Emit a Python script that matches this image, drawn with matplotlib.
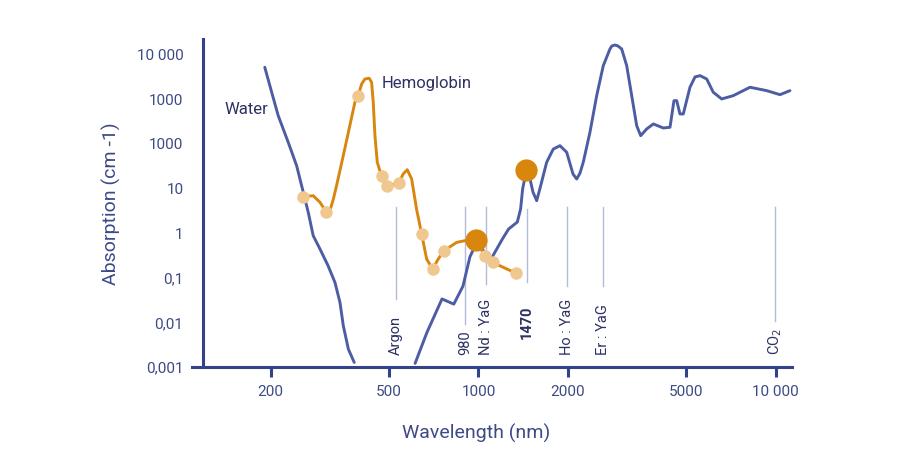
import matplotlib.pyplot as plt
import numpy as np

plt.rcParams['font.family'] = ['Roboto', 'DejaVu Sans']

# water absorption, UV part and IR part (nm, cm-1)
water_uv_wl = [191, 201.5, 212, 229, 244.5, 257.4, 267.5, 278, 293, 312, 329, 342, 351, 365, 382]
water_uv_abs = [4980, 1371, 409, 104, 31, 7.85, 2.79, 0.836, 0.42, 0.177, 0.075, 0.0268,
                0.008, 0.0024, 0.00121]

water_ir_wl = [612, 671, 754, 826, 887, 936, 981, 1030, 1093, 1203, 1263, 1351, 1386, 1408,
               1450, 1490, 1525, 1570, 1610, 1696, 1785, 1880, 1981, 2080, 2140, 2195, 2252,
               2372, 2499, 2630, 2770, 2812, 2880, 2944, 3033, 3153, 3278, 3407, 3514, 3681,
               3875, 4187, 4410, 4548, 4645, 4764, 4888, 5148, 5353, 5564, 5860, 6166, 6581,
               7200, 8195, 9326, 10340, 11170]
water_ir_abs = [0.00115, 0.0057, 0.032, 0.0245, 0.062, 0.28, 0.55, 0.42, 0.226, 0.70, 1.18,
                1.69, 3.3, 9.3, 25, 16, 8.0, 5.1, 9.5, 36.9, 73, 87, 62, 20.2, 15.6, 21, 37,
                174, 1150, 5410, 12800, 14960, 15700, 14960, 12800, 5410, 1150, 244, 146,
                206, 267, 217, 225, 888, 888, 447, 447, 1775, 3020, 3230, 2720, 1371, 970,
                1150, 1775, 1490, 1210, 1490]

# hemoglobin absorption
hb_wl = [257, 278, 293, 307, 317, 325, 333, 342, 355.5, 369.5, 384, 394, 404.6,
         415, 429, 437, 442.6, 448.5, 456.6, 472.5, 493, 540, 558, 576, 596, 619, 644,
         669.5, 701, 732, 765, 845, 904, 980, 1050, 1118, 1340]
hb_abs = [6.25, 6.58, 4.68, 2.88, 3.2, 5.54, 11, 24.2, 77.6, 252, 818, 1150, 2100,
          2720, 2825, 2296, 818, 146, 36.9, 17.9, 11, 12.7, 20.2, 25.2, 15.6, 3.31, 0.91,
          0.25, 0.15, 0.25, 0.385, 0.593, 0.65, 0.67, 0.30, 0.21, 0.12]

hb_dot_wl = [257, 307, 394, 472.5, 493, 540, 644, 701, 765, 1050, 1118, 1340]
hb_dot_abs = [6.25, 2.88, 1150, 17.9, 11, 12.7, 0.91, 0.15, 0.385, 0.30, 0.21, 0.12]

big_dot_wl = [980, 1450]
big_dot_abs = [0.67, 25]

laser_names = ['Argon', '980', 'Nd : YaG', '1470', 'Ho : YaG', 'Er : YaG', 'CO$_2$']
laser_wl = [528, 900, 1057, 1452, 1991, 2618, 9945]
laser_low = [0.032, 0.0087, 0.069, 0.076, 0.062, 0.062, 0.0102]

x_ticks = [200, 500, 1000, 2000, 5000, 10000]
x_ticklabels = ['200', '500', '1000', '2000', '5000', '10 000']
y_ticks = [0.001, 0.01, 0.1, 1, 10, 100, 1000, 10000]
y_ticklabels = ['0,001', '0,01', '0,1', '1', '10', '1000', '1000', '10 000']

navy = '#33428a'
txt = '#3d4a86'
dark = '#2b3262'
blue = '#4d5da3'
orange = '#d9860f'
light = '#f0c78e'
grey_line = '#b4bcdc'

fig = plt.figure(figsize=(9.2, 4.6), dpi=100)
ax = fig.add_axes([0.2087, 0.2, 0.6522, 0.713])
ax.set_xscale('log')
ax.set_yscale('log')
ax.set_xlim(108.7, 11350)
ax.set_ylim(10 ** -3.02, 10 ** 4.33)

for name, wl, low in zip(laser_names, laser_wl, laser_low):
    top = 3.3 if name == '1470' else 3.67
    ax.plot([wl, wl], [low, top], color=grey_line, lw=1.0, zorder=1)
    if name == '1470':
        ax.text(wl, 0.0042, name, rotation=90, ha='center', va='bottom',
                fontsize=10.5, fontweight='bold', color=dark)
    else:
        ax.text(wl, 0.00185, name, rotation=90, ha='center', va='bottom',
                fontsize=10.5, color=dark)

ax.plot(water_uv_wl, water_uv_abs, color=blue, lw=2.1, solid_capstyle='round',
        solid_joinstyle='round', zorder=2)
ax.plot(water_ir_wl, water_ir_abs, color=blue, lw=2.1, solid_capstyle='round',
        solid_joinstyle='round', zorder=2)
ax.plot(hb_wl, hb_abs, color=orange, lw=2.1, solid_capstyle='round',
        solid_joinstyle='round', zorder=3)
ax.plot(hb_dot_wl, hb_dot_abs, 'o', ms=9, color=light, mec='none', zorder=4)
ax.plot(big_dot_wl, big_dot_abs, 'o', ms=16, color=orange, mec='none', zorder=5)

ax.text(140, 578, 'Water', fontsize=12, color=dark, va='center', ha='left')
ax.text(473, 2213, 'Hemoglobin', fontsize=12, color=dark, va='center', ha='left')

for s in ['top', 'right']:
    ax.spines[s].set_visible(False)
ax.spines['left'].set_position(('data', 118.3))
ax.spines['left'].set_color(navy)
ax.spines['left'].set_linewidth(2.2)
ax.spines['bottom'].set_color(navy)
ax.spines['bottom'].set_linewidth(2.2)

ax.set_xticks(x_ticks)
ax.set_xticklabels(x_ticklabels)
ax.xaxis.set_minor_locator(plt.NullLocator())
ax.set_yticks(y_ticks)
ax.set_yticklabels(y_ticklabels)
ax.yaxis.set_minor_locator(plt.NullLocator())
ax.tick_params(axis='x', direction='out', length=7, width=2.2, color=navy,
               labelcolor=txt, labelsize=11, pad=5)
ax.tick_params(axis='y', length=0, labelcolor=txt, labelsize=11, pad=14)

ax.set_xlabel('Wavelength (nm)', fontsize=14, color=txt)
ax.set_ylabel('Absorption (cm -1)', fontsize=14, color=txt)
ax.xaxis.set_label_coords(0.473, -0.171)
ax.yaxis.set_label_coords(-0.118, 0.5)

fig.savefig('out.png', dpi=100)
